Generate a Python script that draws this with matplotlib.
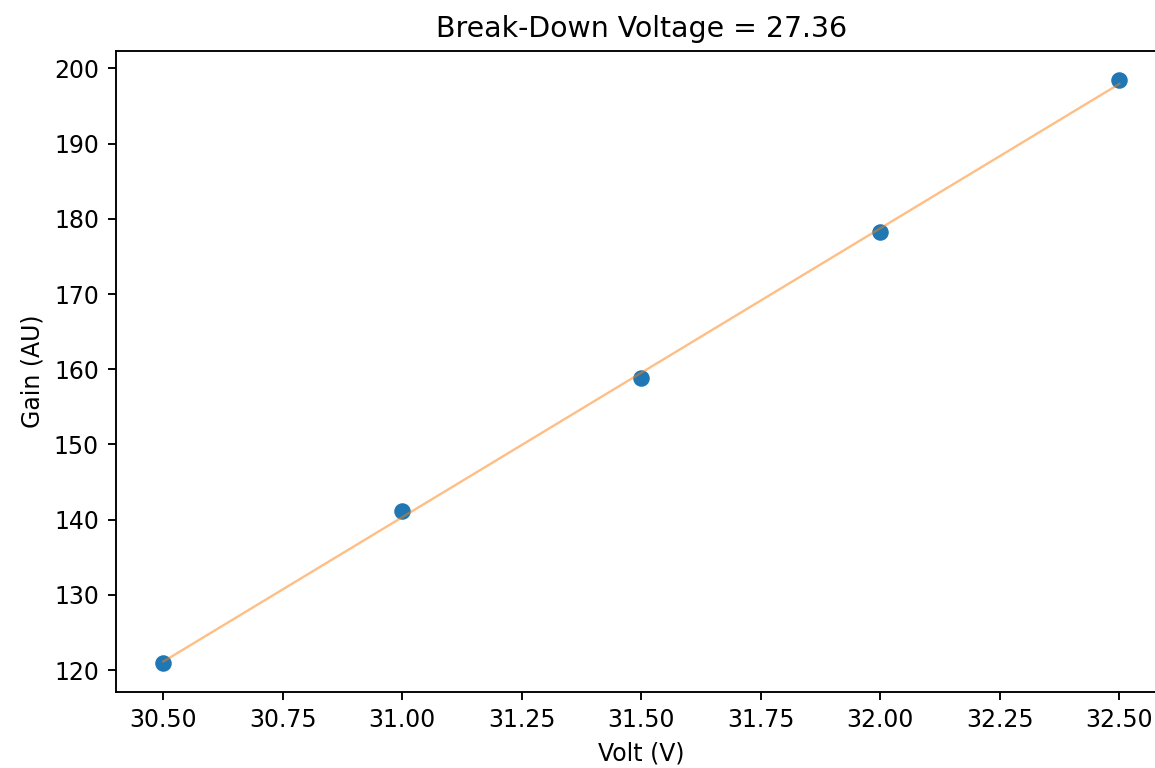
import numpy as np
import matplotlib
matplotlib.use("Agg")
import matplotlib.pyplot as plt

volts = np.array([30.5, 31.0, 31.5, 32.0, 32.5])
gain = np.array([121.0, 141.1, 158.9, 178.3, 198.4])
breakdown = 27.36

slope, intercept = np.polyfit(volts, gain, 1)

fig = plt.figure(figsize=(1155 / 170, 768 / 170), dpi=170)
ax = fig.add_axes([0.1, 0.0993, 0.9105, 0.8339])
ax.scatter(volts, gain)
ax.plot(volts, slope * volts + intercept, color="tab:orange", alpha=0.5, lw=1)
ax.set_title(f"Break-Down Voltage = {breakdown:.2f}")
ax.set_xlabel("Volt (V)")
ax.set_ylabel("Gain (AU)")

fig.savefig("out.png", dpi=170)
